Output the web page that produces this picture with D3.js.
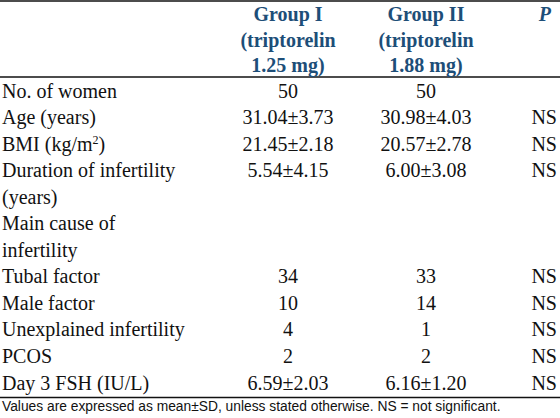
<!DOCTYPE html>
<html>
<head>
<meta charset="utf-8">
<script src="https://cdn.jsdelivr.net/npm/d3@7/dist/d3.min.js"></script>
<style>
  html, body { margin: 0; padding: 0; background: #fff; }
  svg { display: block; }
</style>
</head>
<body>
<svg id="chart" width="560" height="418"></svg>
<script>
// ---- data ----
const headerGroup1 = ["Group I", "(triptorelin", "1.25 mg)"];
const headerGroup2 = ["Group II", "(triptorelin", "1.88 mg)"];
const headerP = "P";
const rowLabels = [
  ["No. of women"],
  ["Age (years)"],
  ["BMI (kg/m", "2", ")"],
  ["Duration of infertility", "(years)"],
  ["Main cause of", "infertility"],
  ["Tubal factor"],
  ["Male factor"],
  ["Unexplained infertility"],
  ["PCOS"],
  ["Day 3 FSH (IU/L)"]
];
const group1Values = ["50", "31.04±3.73", "21.45±2.18", "5.54±4.15", "", "34", "10", "4", "2", "6.59±2.03"];
const group2Values = ["50", "30.98±4.03", "20.57±2.78", "6.00±3.08", "", "33", "14", "1", "2", "6.16±1.20"];
const pValues = ["", "NS", "NS", "NS", "", "NS", "NS", "NS", "NS", "NS"];
const footnote = "Values are expressed as mean±SD, unless stated otherwise. NS = not significant.";

// ---- layout ----
const W = 560, H = 418;
const svg = d3.select("#chart");
const headerColor = "#1d4e78";
const serif = "'Liberation Serif', 'Times New Roman', serif";
const fs = 20;

// line count per row (BMI has superscript, single line)
const lineCounts = rowLabels.map((l, i) => i === 2 ? 1 : l.length);
const startLine = [];
let acc = 0;
lineCounts.forEach(c => { startLine.push(acc); acc += c; });
const totalLines = acc;

const yLine = d3.scaleLinear().domain([0, totalLines - 1]).range([97.5, 389.5]);
const yHead = d3.scaleLinear().domain([0, 2]).range([21, 72]);
const xCol = d3.scaleOrdinal().domain(["label", "g1", "g2", "p"]).range([2, 288, 426, 557]);

// rules
svg.append("line").attr("x1", 0).attr("x2", W).attr("y1", 1).attr("y2", 1)
  .attr("stroke", "#111").attr("stroke-width", 1.5);
svg.append("line").attr("x1", 0).attr("x2", W).attr("y1", 77).attr("y2", 77)
  .attr("stroke", "#111").attr("stroke-width", 1.3);
svg.append("line").attr("x1", 0).attr("x2", W).attr("y1", 397.5).attr("y2", 397.5)
  .attr("stroke", "#111").attr("stroke-width", 1.3);

// header
const head = svg.append("g").attr("font-family", serif).attr("font-weight", "bold")
  .attr("font-size", fs).attr("fill", headerColor);
head.selectAll("text.h1").data(headerGroup1).join("text").attr("class", "h1")
  .attr("x", xCol("g1")).attr("y", (d, i) => yHead(i)).attr("text-anchor", "middle").text(d => d);
head.selectAll("text.h2").data(headerGroup2).join("text").attr("class", "h2")
  .attr("x", xCol("g2")).attr("y", (d, i) => yHead(i)).attr("text-anchor", "middle").text(d => d);
head.append("text").attr("x", xCol("p") - 6).attr("y", yHead(0)).attr("text-anchor", "end")
  .attr("font-style", "italic").text(headerP);

// body
const body = svg.append("g").attr("font-family", serif).attr("font-size", fs).attr("fill", "#111");
rowLabels.forEach((lines, i) => {
  const y0 = yLine(startLine[i]);
  if (i === 2) {
    const t = body.append("text").attr("x", xCol("label")).attr("y", y0);
    t.append("tspan").text(lines[0]);
    t.append("tspan").attr("font-size", 12).attr("dy", -7).text(lines[1]);
    t.append("tspan").attr("dy", 7).text(lines[2]);
  } else {
    lines.forEach((ln, k) => {
      body.append("text").attr("x", xCol("label")).attr("y", yLine(startLine[i] + k)).text(ln);
    });
  }
  body.append("text").attr("x", xCol("g1")).attr("y", y0).attr("text-anchor", "middle").text(group1Values[i]);
  body.append("text").attr("x", xCol("g2")).attr("y", y0).attr("text-anchor", "middle").text(group2Values[i]);
  body.append("text").attr("x", xCol("p")).attr("y", y0).attr("text-anchor", "end").text(pValues[i]);
});

// footnote
svg.append("text").attr("x", 2).attr("y", 411)
  .attr("font-family", "'Liberation Sans', Arial, sans-serif").attr("font-size", 13.8)
  .attr("fill", "#111").text(footnote);
</script>
</body>
</html>
